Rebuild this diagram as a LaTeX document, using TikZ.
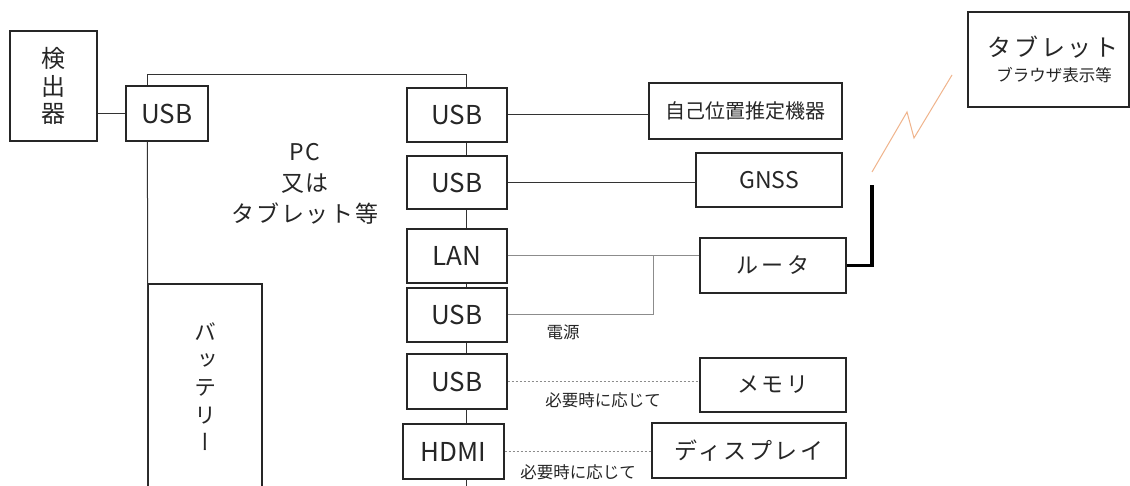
\documentclass[tikz,border=0pt]{standalone}
\usepackage{fontspec}
\setmainfont{Noto Sans CJK JP}
\newfontfamily\vjp[RawFeature=+vert]{Noto Sans CJK JP}
\usetikzlibrary{calc}
\definecolor{ink}{HTML}{262626}
\definecolor{wire}{HTML}{333333}
\definecolor{gwire}{HTML}{8C8C8C}
\definecolor{bolt}{HTML}{F0B48C}
\tikzset{
  box/.style={draw=ink, line width=1.2pt, inner sep=0pt, text=ink, font=\fontsize{26}{30}\selectfont},
  jbox/.style={box, font=\fontsize{20}{26}\selectfont},
  wireline/.style={draw=wire, line width=1pt},
  greyline/.style={draw=gwire, line width=1pt},
  optline/.style={draw=gwire, line width=1pt, dash pattern=on 2pt off 2pt},
  small/.style={text=ink, inner sep=0pt, font=\fontsize{16.5}{20}\selectfont},
  thickline/.style={draw=black, line width=3.5pt},
  boltline/.style={draw=bolt, line width=1pt}
}
\begin{document}
\begin{tikzpicture}[x=1pt,y=-1pt]
\clip (0,0) rectangle (1130,486);
\fill[white] (0,0) rectangle (1130,486);
% boxes
\node[box, align=center, minimum width=87, minimum height=110, font=\fontsize{24}{27.5}\selectfont] (det) at (53.5,86) {検\\出\\器};
\node[box, minimum width=82, minimum height=55] (lusb) at (167,113.5) {USB};
\node[box, minimum width=100, minimum height=54] (usb1) at (457,115) {USB};
\node[box, minimum width=100, minimum height=53] (usb2) at (457,182.5) {USB};
\node[box, minimum width=100, minimum height=54] (lan) at (457,256) {LAN};
\node[box, minimum width=100, minimum height=54] (usb3) at (457,315) {USB};
\node[box, minimum width=100, minimum height=55] (usb4) at (457,381.5) {USB};
\node[box, minimum width=101, minimum height=55] (hdmi) at (453.5,451.5) {HDMI};
\node[jbox, minimum width=193, minimum height=56] (self) at (745.5,111) {自己位置推定機器};
\node[box, font=\fontsize{23}{26}\selectfont, minimum width=146, minimum height=54] (gnss) at (769,180) {GNSS};
\node[jbox, minimum width=146, minimum height=55, font=\fontsize{22}{26}\selectfont\addfontfeature{LetterSpace=14}] (router) at (773,265.5) {ルータ};
\node[jbox, minimum width=146, minimum height=54, font=\fontsize{22}{26}\selectfont\addfontfeature{LetterSpace=12}] (mem) at (773,385) {メモリ};
\node[jbox, minimum width=194, minimum height=55, font=\fontsize{23}{26}\selectfont\addfontfeature{LetterSpace=11}] (disp) at (749,450.5) {ディスプレイ};
\node[draw=ink, line width=1.2pt, minimum width=161, minimum height=95, inner sep=0pt] (tab) at (1048.5,59.5) {};
\node[text=ink, inner sep=0pt, font=\fontsize{24}{28}\selectfont\addfontfeature{LetterSpace=11}] (tabt) at (1053,47) {タブレット};
\node[small] (tabs) at (1054,75) {ブラウザ表示等};
% battery
\coordinate (bbl) at (148,486);
\coordinate (bbr) at (262,486);
\draw[draw=ink, line width=1.2pt] (bbl) |- (262,284) -- (bbr);
\node[text=ink, inner sep=0pt, align=center, font=\vjp\fontsize{22}{27.5}\selectfont] (batt) at (205,387) {バ\\ッ\\テ\\リ\\ー};
% PC text
\node[text=ink, inner sep=0pt, align=center, font=\fontsize{23}{31}\selectfont\addfontfeature{LetterSpace=7}] (pc) at (305,184) {PC\\又は\\タブレット等};
% connectors
\draw[wireline] (lusb.west) -- (lusb.west -| det.east);
\coordinate (spinetop) at (466,75);
\coordinate (spinebot) at (466,486);
\draw[wireline] ($(lusb.north west)+(22,0)$) |- (spinetop) -- (spinetop |- usb1.north);
\draw[wireline] ($(lusb.south west)+(22,0)$) -- (bbl);
\draw[wireline] (spinetop |- usb1.south) -- (spinetop |- usb2.north);
\draw[wireline] (spinetop |- usb2.south) -- (spinetop |- lan.north);
\draw[wireline] (spinetop |- lan.south) -- (spinetop |- usb3.north);
\draw[wireline] (spinetop |- usb3.south) -- (spinetop |- usb4.north);
\draw[wireline] (spinetop |- usb4.south) -- (spinetop |- hdmi.north);
\draw[wireline] (spinetop |- hdmi.south) -- (spinebot);
\draw[wireline] (usb1.east) -- (usb1.east -| self.west);
\draw[wireline] (usb2.east) -- (usb2.east -| gnss.west);
\draw[greyline] (lan.east) -- (lan.east -| router.west);
\coordinate (jn) at (653,256);
\draw[greyline] (jn) |- (usb3.east);
\node[small] (pw) at (563,332) {電源};
\draw[optline] (usb4.east) -- (usb4.east -| mem.west);
\node[small] (opt1) at (603,400) {必要時に応じて};
\draw[optline] (hdmi.east) -- (hdmi.east -| disp.west);
\node[small] (opt2) at (578,472) {必要時に応じて};
\coordinate (ant) at (872,185);
\draw[thickline] (router.east) -| (ant);
\coordinate (b1) at (872,172);
\coordinate (b2) at (907,112);
\coordinate (b3) at (914,138);
\coordinate (b4) at (952,75);
\draw[boltline] (b1) -- (b2) -- (b3) -- (b4);
\end{tikzpicture}
\end{document}
